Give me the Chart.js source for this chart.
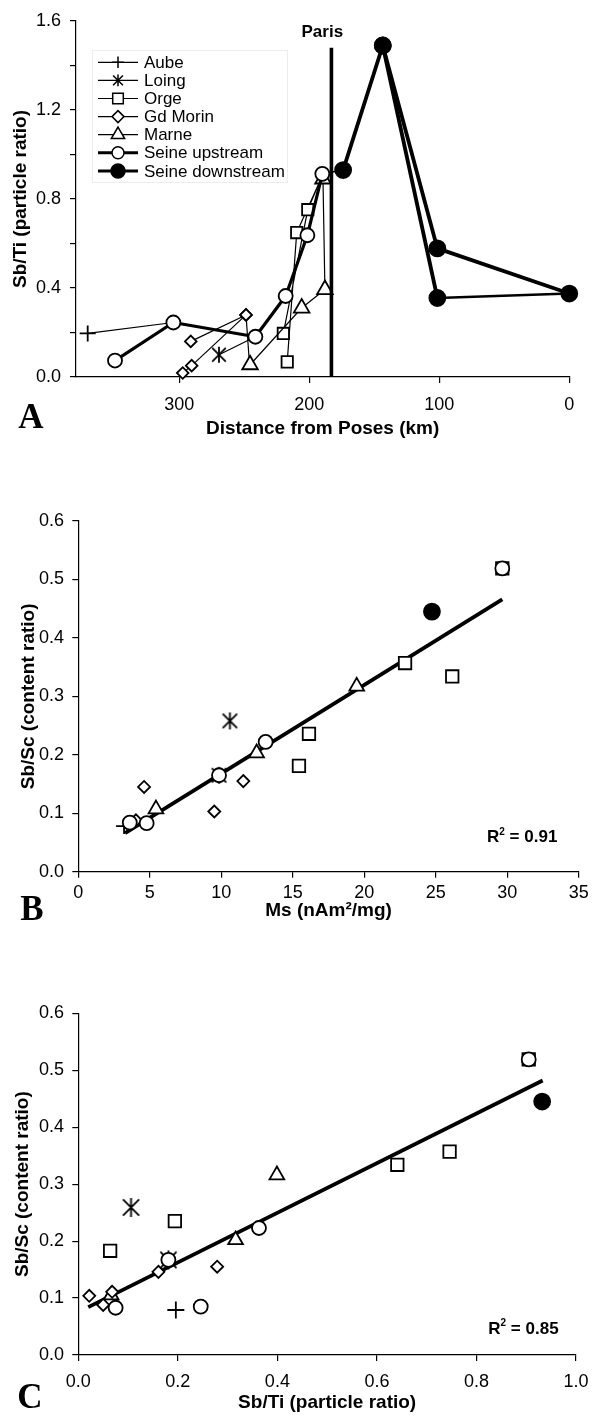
<!DOCTYPE html>
<html>
<head>
<meta charset="utf-8">
<title>Sb/Ti and Sb/Sc along the Seine</title>
<script src="https://cdn.jsdelivr.net/npm/chart.js@4.4.1/dist/chart.umd.min.js"></script>
<style>
  html, body { margin: 0; padding: 0; background: #fff; }
  #page { position: relative; width: 592px; height: 1421px; overflow: hidden; }
  canvas { position: absolute; left: 0; }
  #chartA { top: 0; }
  #chartB { top: 445px; }
  #chartC { top: 925px; }
</style>
</head>
<body>
<div id="page">
  <canvas id="chartA" width="592" height="445"></canvas>
  <canvas id="chartB" width="592" height="480"></canvas>
  <canvas id="chartC" width="592" height="496"></canvas>
</div>
<script>
// A: Sb/Ti (particle ratio) vs distance from Poses (km)
const aubeKm = [370.5, 304.6];
const aubeSbTi = [0.196, 0.245];
const loingKm = [269.5, 241.5];
const loingSbTi = [0.10, 0.181];
const orgeKm = [217, 209.7, 190, 201.2, 220];
const orgeSbTi = [0.068, 0.649, 0.905, 0.752, 0.196];
const morinKm = [297.4, 290.5, 248.7, 246, 248.7, 291.2];
const morinSbTi = [0.018, 0.051, 0.279, 0.055, 0.279, 0.16];
const marneKm = [245.6, 205.9, 188, 189.5];
const marneSbTi = [0.055, 0.31, 0.393, 0.89];
const upKm = [349.5, 304.6, 241.5, 218.2, 201.5, 190];
const upSbTi = [0.074, 0.245, 0.181, 0.364, 0.637, 0.913];
const downKm = [190, 174, 143.5, 101.5, 0, 101.5, 143.5];
const downSbTi = [0.913, 0.93, 1.49, 0.578, 0.375, 0.355, 1.49];
const parisKm = [183, 183];
const parisSbTi = [0, 1.48];
const kmTicks = [0, 100, 200, 300];
const sbTiTicksA = [0, 0.4, 0.8, 1.2, 1.6];

// B: Sb/Sc (content ratio) vs Ms (nAm2/mg)
const bAubeMs = [3.2], bAubeSbSc = [0.078];
const bLoingMs = [10.6, 9.84], bLoingSbSc = [0.258, 0.165];
const bOrgeMs = [15.43, 16.13, 22.85, 26.15, 29.65], bOrgeSbSc = [0.181, 0.236, 0.357, 0.334, 0.519];
const bMorinMs = [4.03, 4.6, 9.51, 11.54], bMorinSbSc = [0.088, 0.145, 0.103, 0.155];
const bMarneMs = [5.43, 12.47, 19.47], bMarneSbSc = [0.107, 0.203, 0.317];
const bUpMs = [3.6, 4.78, 9.84, 13.1, 29.65], bUpSbSc = [0.084, 0.083, 0.165, 0.222, 0.519];
const bDownMs = [24.73], bDownSbSc = [0.445];
const bFitMs = [3.27, 29.65], bFitSbSc = [0.066, 0.466];
const bR2 = '0.91';

// C: Sb/Sc (content ratio) vs Sb/Ti (particle ratio)
const cAubeSbTi = [0.196], cAubeSbSc = [0.079];
const cLoingSbTi = [0.106, 0.181], cLoingSbSc = [0.259, 0.167];
const cOrgeSbTi = [0.064, 0.194, 0.641, 0.746, 0.905], cOrgeSbSc = [0.183, 0.235, 0.334, 0.357, 0.519];
const cMorinSbTi = [0.022, 0.05, 0.068, 0.161, 0.279], cMorinSbSc = [0.104, 0.088, 0.111, 0.146, 0.155];
const cMarneSbTi = [0.066, 0.316, 0.399], cMarneSbSc = [0.105, 0.202, 0.316];
const cUpSbTi = [0.075, 0.181, 0.246, 0.363, 0.905], cUpSbSc = [0.083, 0.167, 0.085, 0.223, 0.519];
const cDownSbTi = [0.932], cDownSbSc = [0.445];
const cFitSbTi = [0.02, 0.933], cFitSbSc = [0.084, 0.482];
const cR2 = '0.85';

const rivers = ['Aube', 'Loing', 'Orge', 'Gd Morin', 'Marne', 'Seine upstream', 'Seine downstream'];

const INK = '#000';
const SANS = '"Liberation Sans", Arial, Helvetica, sans-serif';
const SERIF = '"Liberation Serif", "Times New Roman", serif';
const MARK_LW = 1.8;
Chart.defaults.font.family = SANS;
Chart.defaults.color = INK;

const marks = {
  'Aube': { style: 'cross', fill: '#fff' },
  'Loing': { style: 'asterisk', fill: '#fff' },
  'Orge': { style: 'rect', fill: '#fff' },
  'Gd Morin': { style: 'rectRot', fill: '#fff' },
  'Marne': { style: 'triangle', fill: '#fff' },
  'Seine upstream': { style: 'circle', fill: '#fff' },
  'Seine downstream': { style: 'circle', fill: INK }
};

const zip = (xs, ys) => xs.map((x, i) => ({ x, y: ys[i] }));

function drawMark(ctx, style, x, y, r, fill, lw) {
  ctx.save();
  ctx.strokeStyle = INK;
  ctx.fillStyle = fill;
  ctx.lineWidth = lw || MARK_LW;
  ctx.beginPath();
  if (style === 'cross') {
    ctx.moveTo(x - r, y); ctx.lineTo(x + r, y);
    ctx.moveTo(x, y - r); ctx.lineTo(x, y + r);
  } else if (style === 'asterisk') {
    const d = r * 0.85;
    ctx.moveTo(x, y - r); ctx.lineTo(x, y + r);
    ctx.moveTo(x - d, y - d); ctx.lineTo(x + d, y + d);
    ctx.moveTo(x + d, y - d); ctx.lineTo(x - d, y + d);
  } else if (style === 'rect') {
    const s = r * Math.SQRT1_2;
    ctx.rect(x - s, y - s, 2 * s, 2 * s);
  } else if (style === 'rectRot') {
    ctx.moveTo(x, y - r); ctx.lineTo(x + r, y); ctx.lineTo(x, y + r); ctx.lineTo(x - r, y);
    ctx.closePath();
  } else if (style === 'triangle') {
    const h = r * Math.sin(Math.PI / 3);
    ctx.moveTo(x, y - r); ctx.lineTo(x + h, y + r / 2); ctx.lineTo(x - h, y + r / 2);
    ctx.closePath();
  } else {
    ctx.arc(x, y, r, 0, Math.PI * 2);
  }
  if (style !== 'cross' && style !== 'asterisk') ctx.fill();
  ctx.stroke();
  ctx.restore();
}

// chart.js has no 6-armed star, so hand it a small canvas
function asteriskImage(r) {
  const c = document.createElement('canvas');
  c.width = c.height = Math.ceil(2 * r + 4);
  drawMark(c.getContext('2d'), 'asterisk', c.width / 2, c.height / 2, r, '#fff');
  return c;
}

function riverSet(name, xs, ys, r, opts = {}) {
  const m = marks[name];
  const hide = opts.hide || [];
  return Object.assign({
    label: name,
    data: zip(xs, ys),
    showLine: !!opts.line,
    borderColor: INK,
    borderWidth: opts.line || 0,
    borderJoinStyle: 'round',
    tension: 0,
    pointStyle: m.style === 'asterisk' ? asteriskImage(r) : m.style,
    pointRadius: c => hide.includes(c.dataIndex) ? 0 : r,
    pointHoverRadius: c => hide.includes(c.dataIndex) ? 0 : r,
    pointBackgroundColor: m.fill,
    pointBorderColor: INK,
    pointBorderWidth: MARK_LW,
    clip: false
  }, opts.extra || {});
}

function plainLine(label, xs, ys, width) {
  return { label, data: zip(xs, ys), showLine: true, borderColor: INK, borderWidth: width,
           pointRadius: 0, pointHoverRadius: 0, clip: false };
}

function axis(o) {
  return {
    type: 'linear',
    min: o.min, max: o.max,
    reverse: !!o.reverse,
    afterBuildTicks: o.keep ? s => {
      s.ticks = s.ticks.filter(t => o.keep.some(k => Math.abs(k - t.value) < 1e-6));
    } : undefined,
    afterFit: s => {
      if (s.isHorizontal()) s.height = o.size; else s.width = o.size;
      s.paddingLeft = s.paddingRight = s.paddingTop = s.paddingBottom = 0;
    },
    grid: { drawOnChartArea: false, drawTicks: true, tickLength: 6, color: INK, lineWidth: 1.2 },
    border: { display: true, color: INK, width: 1.2 },
    ticks: { stepSize: o.step, autoSkip: false, maxRotation: 0, color: INK,
             font: { size: 18 }, padding: o.pad, callback: o.fmt },
    title: { display: true, text: o.title, color: INK, font: { size: 19, weight: 'bold' },
             padding: { top: o.titlePad, bottom: o.titlePad } }
  };
}

const oneDec = v => Number(v).toFixed(1);

function panelLetter(ctx, letter, x, y) {
  ctx.save();
  ctx.font = 'bold 35px ' + SERIF;
  ctx.fillStyle = INK;
  ctx.textAlign = 'center';
  ctx.textBaseline = 'alphabetic';
  ctx.fillText(letter, x, y);
  ctx.restore();
}

function drawR2(ctx, value, xRight, yMid) {
  const big = 'bold 17px ' + SANS, small = 'bold 10px ' + SANS;
  const rest = ' = ' + value;
  ctx.save();
  ctx.fillStyle = INK;
  ctx.textBaseline = 'middle';
  ctx.textAlign = 'left';
  ctx.font = big;
  const wR = ctx.measureText('R').width, wRest = ctx.measureText(rest).width;
  ctx.font = small;
  const w2 = ctx.measureText('2').width;
  let x = xRight - wR - w2 - wRest;
  ctx.font = big; ctx.fillText('R', x, yMid); x += wR;
  ctx.font = small; ctx.fillText('2', x, yMid - 6); x += w2;
  ctx.font = big; ctx.fillText(rest, x, yMid);
  ctx.restore();
}

const legendSizes = { 'Aube': 5.8, 'Loing': 5.8, 'Orge': 7.5, 'Gd Morin': 6, 'Marne': 7.7,
                      'Seine upstream': 6, 'Seine downstream': 7 };

const decorA = {
  id: 'decorA',
  afterDraw(chart) {
    const { ctx, chartArea: area, scales: { x, y } } = chart;
    // legend box
    ctx.save();
    ctx.strokeStyle = '#ececec';
    ctx.lineWidth = 1;
    ctx.strokeRect(area.left + 16.5, area.top + 29.5, 195, 132);
    ctx.font = '17px ' + SANS;
    ctx.fillStyle = INK;
    ctx.textBaseline = 'middle';
    ctx.textAlign = 'left';
    rivers.forEach((name, i) => {
      const yy = area.top + 41.3 + i * 18.1;
      const thick = name.startsWith('Seine');
      ctx.beginPath();
      ctx.strokeStyle = INK;
      ctx.lineWidth = thick ? 3 : 1.2;
      ctx.moveTo(area.left + 22, yy);
      ctx.lineTo(area.left + 62, yy);
      ctx.stroke();
      drawMark(ctx, marks[name].style, area.left + 42, yy, legendSizes[name], marks[name].fill, 1.5);
      ctx.fillText(name, area.left + 68, yy + 1);
    });
    // Paris label
    ctx.font = 'bold 17px ' + SANS;
    ctx.textAlign = 'center';
    ctx.fillText('Paris', x.getPixelForValue(190), y.getPixelForValue(1.547));
    ctx.restore();
    panelLetter(ctx, 'A', 31, 428);
  }
};

new Chart(document.getElementById('chartA'), {
  type: 'scatter',
  data: {
    datasets: [
      plainLine('Paris', parisKm, parisSbTi, 3.6),
      riverSet('Seine upstream', upKm, upSbTi, 7, { line: 3.2 }),
      riverSet('Seine downstream', downKm, downSbTi, 8, {
        line: 3.8, hide: [0],
        extra: { segment: { borderWidth: c => c.p0DataIndex === 0 ? 1.5 : (c.p0DataIndex === 4 ? 2.4 : 3.8) } }
      }),
      riverSet('Marne', marneKm, marneSbTi, 9, { line: 1.2 }),
      riverSet('Gd Morin', morinKm, morinSbTi, 5.8, { line: 1.2, hide: [3] }),
      riverSet('Orge', orgeKm, orgeSbTi, 8, { line: 1.2, hide: [2] }),
      riverSet('Loing', loingKm, loingSbTi, 8, { line: 1.2, hide: [1] }),
      riverSet('Aube', aubeKm, aubeSbTi, 8, { line: 1.2, hide: [1] })
    ]
  },
  options: {
    responsive: false,
    animation: false,
    events: [],
    layout: { padding: { left: 0, top: 21, right: 22.7, bottom: 0 } },
    plugins: { legend: { display: false }, tooltip: { enabled: false } },
    scales: {
      x: axis({ min: 0, max: 379.5, reverse: true, step: 100, keep: kmTicks, size: 68, pad: 11,
                titlePad: 4.6, title: 'Distance from Poses (km)', fmt: v => String(v) }),
      y: axis({ min: 0, max: 1.6, step: 0.2, size: 76, pad: 9, titlePad: 9,
                title: 'Sb/Ti (particle ratio)',
                fmt: v => sbTiTicksA.some(t => Math.abs(t - v) < 1e-6) ? oneDec(v) : '' })
    }
  },
  plugins: [decorA]
});

function scatterChart(id, sets, fit, o) {
  return new Chart(document.getElementById(id), {
    type: 'scatter',
    data: { datasets: sets.concat([plainLine('fit', fit[0], fit[1], 3.8)]) },
    options: {
      responsive: false,
      animation: false,
      events: [],
      layout: { padding: { left: 0, top: o.top, right: o.right, bottom: 0 } },
      plugins: { legend: { display: false }, tooltip: { enabled: false } },
      scales: { x: o.x, y: o.y }
    },
    plugins: [{
      id: 'decor' + id,
      afterDraw(chart) {
        const { ctx, scales: { x, y } } = chart;
        drawR2(ctx, o.r2, x.getPixelForValue(o.r2At[0]), y.getPixelForValue(o.r2At[1]));
        panelLetter(ctx, o.letter, o.letterAt[0], o.letterAt[1]);
      }
    }]
  });
}

scatterChart('chartB', [
  riverSet('Seine downstream', bDownMs, bDownSbSc, 8),
  riverSet('Seine upstream', bUpMs, bUpSbSc, 7),
  riverSet('Marne', bMarneMs, bMarneSbSc, 8.5),
  riverSet('Gd Morin', bMorinMs, bMorinSbSc, 6),
  riverSet('Orge', bOrgeMs, bOrgeSbSc, 8.8),
  riverSet('Loing', bLoingMs, bLoingSbSc, 8.5),
  riverSet('Aube', bAubeMs, bAubeSbSc, 8)
], [bFitMs, bFitSbSc], {
  top: 76, right: 13.2, letter: 'B', letterAt: [32, 475], r2: bR2, r2At: [33.5, 0.058],
  x: axis({ min: 0, max: 35, step: 5, size: 53.3, pad: 4.5, titlePad: 2.6,
            title: 'Ms (nAm²/mg)', fmt: v => String(v) }),
  y: axis({ min: 0, max: 0.6, step: 0.1, size: 78.3, pad: 8.3, titlePad: 17.5,
            title: 'Sb/Sc (content ratio)', fmt: oneDec })
});

scatterChart('chartC', [
  riverSet('Seine downstream', cDownSbTi, cDownSbSc, 8),
  riverSet('Seine upstream', cUpSbTi, cUpSbSc, 7),
  riverSet('Gd Morin', cMorinSbTi, cMorinSbSc, 6),
  riverSet('Marne', cMarneSbTi, cMarneSbSc, 8.5),
  riverSet('Orge', cOrgeSbTi, cOrgeSbSc, 8.8),
  riverSet('Loing', cLoingSbTi, cLoingSbSc, 9.5),
  riverSet('Aube', cAubeSbTi, cAubeSbSc, 8.5)
], [cFitSbTi, cFitSbSc], {
  top: 88.3, right: 16, letter: 'C', letterAt: [30, 483], r2: cR2, r2At: [0.965, 0.0457],
  x: axis({ min: 0, max: 1, step: 0.2, size: 66, pad: 10.7, titlePad: 6.6,
            title: 'Sb/Ti (particle ratio)', fmt: oneDec }),
  y: axis({ min: 0, max: 0.6, step: 0.1, size: 78.3, pad: 8.3, titlePad: 11.1,
            title: 'Sb/Sc (content ratio)', fmt: oneDec })
});
</script>
</body>
</html>
